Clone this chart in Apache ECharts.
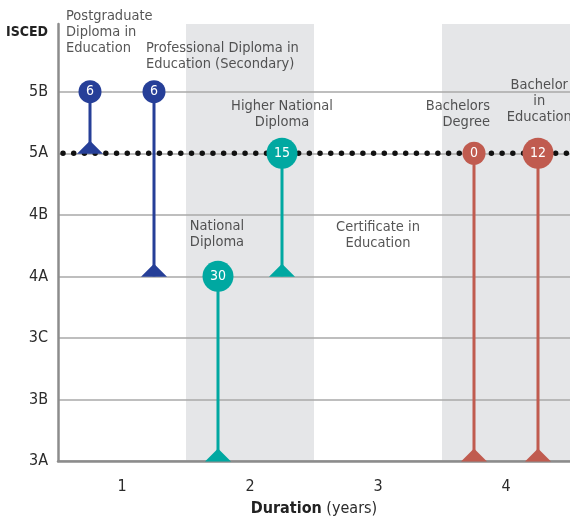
<!DOCTYPE html>
<html><head><meta charset="utf-8">
<script src="https://cdn.jsdelivr.net/npm/echarts@6/dist/echarts.min.js"></script>
<style>html,body{margin:0;padding:0;background:#fff}#c{width:570px;height:522px}</style>
</head><body><div id="c"></div>
<script>
// ---- data ----
const yLevels = ['3A', '3B', '3C', '4A', '4B', '5A', '5B'];
const xTicks = [1, 2, 3, 4];
const programs = ['Postgraduate Diploma in Education', 'Professional Diploma in Education (Secondary)', 'National Diploma', 'Higher National Diploma', 'Bachelors Degree', 'Bachelor in Education'];
const durations = [0.75, 1.25, 1.75, 2.25, 3.75, 4.25];
const entryLevel = ['5B', '5B', '4A', '5A', '5A', '5A'];
const targetLevel = ['5A', '4A', '3A', '4A', '3A', '3A'];
const counts = [6, 6, 30, 15, 0, 12];
const groups = ['blue', 'blue', 'teal', 'teal', 'red', 'red'];
const shadedRanges = [[1.5, 2.5], [3.5, 4.5]];
const referenceLevel = '5A';
// annotation labels
const labelTexts = ['Postgraduate\nDiploma in\nEducation', 'Professional Diploma in\nEducation (Secondary)', 'Higher National\nDiploma', 'National\nDiploma', 'Certificate in\nEducation', 'Bachelors\nDegree', 'Bachelor\nin\nEducation'];
const labelX = [0.5625, 1.1875, 2.25, 1.53, 3.0, 3.875, 4.26];
const labelY = [6.97, 6.57, 5.635, 3.68, 3.67, 5.635, 5.85];
const labelAlign = ['left', 'left', 'center', 'left', 'center', 'right', 'center'];

// ---- styles ----
const FONT = "'Liberation Sans Narrow', 'DejaVu Sans Condensed', 'Roboto', sans-serif";
const colors = { blue: '#263f98', teal: '#00a8a1', red: '#c05b4f' };
const txt = '#2b2b2b';
const lvl = l => yLevels.indexOf(l);

const series = [];
series.push({
  type: 'line', data: [], z: 1, silent: true,
  markArea: {
    silent: true,
    itemStyle: { color: '#e5e6e8' },
    data: shadedRanges.map(r => [{ xAxis: r[0] }, { xAxis: r[1] }])
  }
});
series.push({
  type: 'line', z: 4, silent: true, symbol: 'none',
  data: [[0.5, lvl(referenceLevel)], [4.5, lvl(referenceLevel)]],
  lineStyle: { color: '#111', width: 5.5, type: [0.01, 10.7], cap: 'round', dashOffset: -5 }
});
programs.forEach((p, i) => {
  const c = colors[groups[i]];
  series.push({
    type: 'line', name: p, z: 5, silent: true,
    lineStyle: { color: c, width: 3 },
    itemStyle: { color: c, opacity: 1 },
    data: [
      { value: [durations[i], lvl(entryLevel[i])], symbol: 'circle', symbolSize: counts[i] >= 10 ? 31 : 23,
        label: { show: true, position: 'inside', color: '#fff', fontSize: 14, fontFamily: FONT, formatter: String(counts[i]) } },
      { value: [durations[i], lvl(targetLevel[i])], symbol: 'triangle', symbolSize: [26, 13], symbolOffset: [0, -6] }
    ]
  });
});
series.push({
  type: 'scatter', z: 6, silent: true, clip: false, symbolSize: 1,
  itemStyle: { color: 'rgba(0,0,0,0)' },
  data: labelTexts.map((t, i) => ({
    value: [labelX[i], labelY[i]],
    label: { show: true, position: 'inside', formatter: t, align: labelAlign[i], verticalAlign: 'middle',
      color: txt, fontSize: 14.5, lineHeight: 16, fontFamily: FONT }
  }))
});

const chart = echarts.init(document.getElementById('c'), null, { renderer: 'canvas' });
chart.setOption({
  animation: false,
  backgroundColor: '#fff',
  grid: { left: 58, right: 0, top: 24, bottom: 60 },
  xAxis: {
    type: 'value', min: 0.5, max: 4.5, z: 2,
    axisLine: { show: true, lineStyle: { color: '#8c8c8c', width: 2.5 } },
    axisTick: { show: false },
    splitLine: { show: false },
    axisLabel: { customValues: xTicks, margin: 18, color: txt, fontSize: 16, fontFamily: FONT },
    name: '{b|Duration} (years)', nameLocation: 'middle', nameGap: 40,
    nameTextStyle: { color: txt, fontSize: 16, fontFamily: FONT, rich: { b: { fontWeight: 'bold', fontSize: 16, fontFamily: FONT, color: '#222' } } }
  },
  yAxis: {
    type: 'value', min: 0, max: 7.1, z: 2,
    axisLine: { show: true, lineStyle: { color: '#8c8c8c', width: 2.5 } },
    axisTick: { show: false, customValues: yLevels.map((_, i) => i) },
    splitLine: { show: true, lineStyle: { color: '#a8a8a8', width: 1.5 } },
    axisLabel: { customValues: yLevels.map((_, i) => i), formatter: v => yLevels[Math.round(v)] || '', margin: 10, color: txt, fontSize: 16, fontFamily: FONT }
  },
  graphic: [{ type: 'text', left: 6, top: 25, style: { text: 'ISCED', fill: '#222', font: "bold 14px " + FONT } }],
  series
});
</script></body></html>
